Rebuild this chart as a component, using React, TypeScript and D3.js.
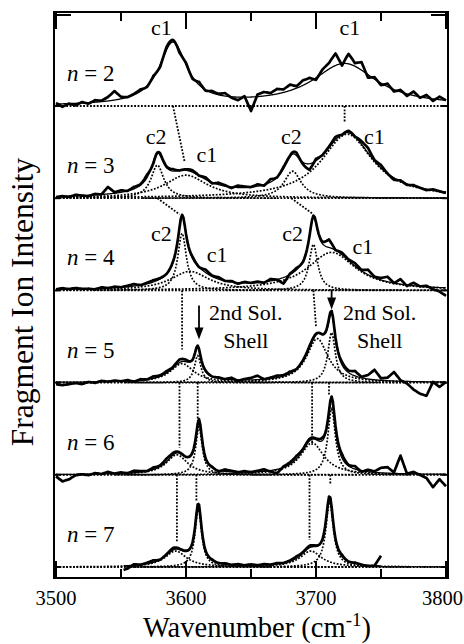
import React from "react";
import * as d3 from "d3";

// ---------------- data ----------------
const clusterSizes = [2, 3, 4, 5, 6, 7];
const xTicksMajor = [3500, 3600, 3700, 3800];
const xTicksMinor = [3550, 3650, 3750];

// Lorentzian fit components per panel (centre cm-1, FWHM cm-1, height)
const peakCenters = [
  [3590, 3722],
  [3578, 3600, 3682, 3724],
  [3597, 3603, 3698, 3712],
  [3597, 3609, 3701, 3712],
  [3593, 3610, 3697, 3712],
  [3592, 3609.5, 3696, 3710.5],
];
const peakWidths = [
  [26, 60],
  [12, 40, 16, 48],
  [8, 36, 8, 45],
  [22, 6, 20, 7],
  [20, 6, 22, 7],
  [20, 6, 20, 7],
];
const peakHeights = [
  [62, 42],
  [33, 23, 27, 64],
  [57, 19, 46, 38],
  [19, 27, 44, 50],
  [20, 48, 32, 66],
  [16, 59, 16, 65],
];
const showComponents = [false, true, true, true, true, true];
const scanStart = [3500, 3500, 3500, 3500, 3500, 3552];
const scanEnd = [3800, 3800, 3800, 3800, 3800, 3750];

// measured spectrum minus fit, every 5 cm-1 from 3500 to 3800
const residualStep = 5;
const residuals = [
  [1, -3, 0, -2, 1, -1, 2, 1, 4, 9,
   2, 0, 1, 2, -1, 2, -2, 3, 2, -3,
   2, -2, 3, -1, 2, 1, 3, -1, -3, 1,
   -14, 2, 4, 2, 5, 3, 6, 2, 5, 4,
   -2, 4, 6, 12, -2, 10, 3, 8, -3, 2,
   -2, 3, -2, 2, -2, 4, -1, 3, -2, 3,
   0],
  [-1, 0, -1, 1, 0, -1, 1, 0, 7, 1,
   2, 0, 2, 1, 3, -2, 2, 1, 2, 0,
   1, 2, 0, 2, -1, 2, 1, -1, 2, 1,
   0, 2, -1, 3, 0, 2, 1, 3, -2, -6,
   2, 0, 1, 3, -1, 2, 0, 3, 5, 1,
   3, 0, -2, 1, -1, 1, 0, -1, 1, 0,
   -1],
  [0, 1, 0, 1, 0, 0, -1, 1, 0, 1,
   0, 1, 2, 0, 1, 2, 1, 0, 1, 0,
   0, 2, 0, 3, 1, 2, 0, 1, -1, 1,
   0, 1, -1, 2, 0, -6, 1, 2, -1, 0,
   1, 2, 8, 0, 2, 1, 3, 1, 5, 1,
   2, 5, 0, 5, -1, 3, 0, 1, -2, -4,
   -8],
  [-2, -3, -2, -1, -2, 0, -1, 1, 0, 1,
   0, 1, -1, 1, 0, 2, 1, 2, 1, 3,
   2, 0, 1, 1, 0, 1, 0, 2, -1, 1,
   2, 4, 0, 1, 2, 1, 2, 0, 1, 2,
   1, 0, 2, 1, 3, 2, 5, 1, 4, 10,
   2, 3, 9, 1, -2, -8, -12, -14, 0, -5,
   0],
  [-2, -7, -5, -1, 0, -1, 1, 0, 2, 0,
   1, 0, 2, 1, 0, 2, 1, 3, 2, 1,
   0, 1, 2, 0, 1, -1, 2, 1, 0, 1,
   0, 1, 2, -1, -4, 1, 2, 3, 1, 2,
   1, 3, 0, 2, 4, 1, 3, -1, 2, 1,
   5, 6, 1, 18, 0, 2, -1, -4, -13, -5,
   -12],
  [0, 1, 0, 1, 0, 1, 1, 0, 1, 0,
   -5, -3, 1, 0, 1, 2, 0, 1, 2, 1,
   1, 0, 1, 0, 1, 0, 1, 0, 1, 0,
   1, 0, 1, 0, 1, 0, 1, 2, 1, 2,
   1, 0, 1, 0, 2, 0, 1, 0, -1, 0,
   10, 0, 0, 1, 0, 0, 0, 1, 0, 0,
   0],
];

// peak labels
const labelPanel = [0, 0, 1, 1, 1, 1, 2, 2, 2, 2];
const labelText = ["c1", "c1", "c2", "c1", "c2", "c1", "c2", "c1", "c2", "c1"];
const labelWn = [3581, 3726, 3577, 3616, 3681, 3745, 3581, 3624, 3682, 3736];
const labelVal = [71, 71, 54, 36, 54, 54, 49, 28, 49, 36];

// dotted guide lines linking peaks between panels
const linkFromPanel = [0, 0, 1, 1, 2, 2, 3, 3, 3, 3, 4, 4, 4, 4];
const linkFromWn = [3590, 3722, 3578, 3681, 3597, 3698, 3595, 3609, 3697, 3710, 3593, 3608, 3695, 3711];
const linkToWn = [3599, 3722, 3595, 3697, 3597, 3700, 3595, 3609, 3697, 3710, 3593, 3608, 3695, 3711];
const linkToVal = [36, 76, 76, 77, 33, 56, 27, 54, 30, 80, 25, 65, 27, 82];

// "2nd Sol. Shell" arrows (in panel n = 5)
const arrowWn = [3610, 3712];
const arrowFromVal = [77, 93];
const arrowToVal = [43, 73];
const shellTextWn = [3646, 3749];

// ---------------- chart ----------------
const W = 464;
const H = 644;
const FONT = "'Liberation Serif', 'Times New Roman', Times, serif";
const frame = { left: 54, right: 448, top: 12, bottom: 578 };

const x = d3.scaleLinear().domain([3500, 3800]).range([56, 446]);
const baseY = d3.scaleLinear().domain([0, 5]).range([106, 567]);
const yPanel = (p: number) =>
  d3.scaleLinear().domain([0, 100]).range([baseY(p), baseY(p) - 100]);

const lor = (wn: number, c: number, w: number, h: number) => {
  const g = w / 2;
  return (h * g * g) / ((wn - c) * (wn - c) + g * g);
};
const fitAt = (p: number, wn: number) =>
  peakCenters[p].reduce((s, c, i) => s + lor(wn, c, peakWidths[p][i], peakHeights[p][i]), 0);
const residAt = (p: number, wn: number) => {
  const r = residuals[p];
  const t = (wn - 3500) / residualStep;
  const i = Math.max(0, Math.min(r.length - 2, Math.floor(t)));
  const f = t - i;
  return r[i] * (1 - f) + r[i + 1] * f;
};

const DOT = "1.8 1.6";

export default function App() {
  const fine = d3.range(3500, 3800.001, 0.5);
  return (
    <svg
      width={W}
      height={H}
      style={{ position: "absolute", left: 0, top: 0, background: "#fff", fontFamily: FONT }}
    >
      <rect x={0} y={0} width={W} height={H} fill="#fff" />
      {clusterSizes.map((n, p) => {
        const y = yPanel(p);
        const line = d3
          .line<number>()
          .x((d) => x(d))
          .curve(d3.curveLinear);
        const fitPts = fine.filter((d) => d >= scanStart[p] && d <= scanEnd[p]);
        const expPts = d3.range(scanStart[p], scanEnd[p] + 0.001, 1);
        return (
          <g key={n}>
            <line
              x1={x(3500)}
              x2={x(3800)}
              y1={y(0)}
              y2={y(0)}
              stroke="#000"
              strokeWidth={1.8}
              strokeDasharray={DOT}
            />
            {showComponents[p] &&
              peakCenters[p].map((c, i) => (
                <path
                  key={i}
                  d={
                    line.y((d) => y(lor(d, c, peakWidths[p][i], peakHeights[p][i])))(
                      fine.filter((d) => Math.abs(d - c) < peakWidths[p][i] * 6 + 20)
                    ) || ""
                  }
                  fill="none"
                  stroke="#000"
                  strokeWidth={1.7}
                  strokeDasharray={DOT}
                />
              ))}
            <path
              d={line.y((d) => y(fitAt(p, d) + residAt(p, d)))(expPts) || ""}
              fill="none"
              stroke="#000"
              strokeWidth={2.7}
              strokeLinejoin="round"
            />
            <path
              d={line.y((d) => y(fitAt(p, d)))(fitPts) || ""}
              fill="none"
              stroke="#000"
              strokeWidth={1.3}
            />
            <text x={x(3508.5)} y={y(25)} fontSize={23} fontFamily={FONT}>
              <tspan fontStyle="italic">n</tspan> = {n}
            </text>
          </g>
        );
      })}

      {linkFromPanel.map((p, i) => (
        <line
          key={"l" + i}
          x1={x(linkFromWn[i])}
          y1={yPanel(p)(0)}
          x2={x(linkToWn[i])}
          y2={yPanel(p + 1)(linkToVal[i])}
          stroke="#000"
          strokeWidth={1.8}
          strokeDasharray={DOT}
        />
      ))}

      {labelText.map((t, i) => (
        <text
          key={"t" + i}
          x={x(labelWn[i])}
          y={yPanel(labelPanel[i])(labelVal[i])}
          fontSize={22}
          fontFamily={FONT}
          textAnchor="middle"
        >
          {t}
        </text>
      ))}

      {arrowWn.map((wn, i) => {
        const y = yPanel(3);
        const ax = x(wn);
        const y1 = y(arrowFromVal[i]);
        const y2 = y(arrowToVal[i]);
        return (
          <g key={"a" + i}>
            <line x1={ax} x2={ax} y1={y1} y2={y2 - 10} stroke="#000" strokeWidth={1.8} />
            <path d={`M${ax - 4.5},${y2 - 12} L${ax + 4.5},${y2 - 12} L${ax},${y2} Z`} fill="#000" />
          </g>
        );
      })}
      {shellTextWn.map((wn, i) => (
        <g key={"s" + i} fontSize={22} fontFamily={FONT} textAnchor="middle">
          <text x={x(wn)} y={yPanel(3)(63)}>
            2nd Sol.
          </text>
          <text x={x(wn)} y={yPanel(3)(35)}>
            Shell
          </text>
        </g>
      ))}

      <rect
        x={frame.left}
        y={frame.top}
        width={frame.right - frame.left}
        height={frame.bottom - frame.top}
        fill="none"
        stroke="#000"
        strokeWidth={2}
      />
      {xTicksMajor.map((t) => (
        <g key={"M" + t} stroke="#000" strokeWidth={2}>
          <line x1={x(t)} x2={x(t)} y1={frame.top} y2={frame.top + 17} />
          <line x1={x(t)} x2={x(t)} y1={frame.bottom} y2={frame.bottom - 17} />
        </g>
      ))}
      {xTicksMinor.map((t) => (
        <g key={"m" + t} stroke="#000" strokeWidth={2}>
          <line x1={x(t)} x2={x(t)} y1={frame.top} y2={frame.top + 9} />
          <line x1={x(t)} x2={x(t)} y1={frame.bottom} y2={frame.bottom - 9} />
        </g>
      ))}
      {clusterSizes.map((n, p) => (
        <g key={"yt" + n} stroke="#000" strokeWidth={2}>
          <line x1={frame.left} x2={frame.left + 6} y1={baseY(p)} y2={baseY(p)} />
          <line x1={frame.right} x2={frame.right - 6} y1={baseY(p)} y2={baseY(p)} />
        </g>
      ))}
      <g stroke="#000" strokeWidth={2}>
        <line x1={frame.left} x2={frame.left + 17} y1={15} y2={15} />
        <line x1={frame.right} x2={frame.right - 17} y1={15} y2={15} />
      </g>
      {xTicksMajor.map((t, i) => {
        const last = i === xTicksMajor.length - 1;
        return (
          <text
            key={"xl" + t}
            x={last ? W - 1 : x(t)}
            y={605}
            fontSize={20.5}
            fontFamily={FONT}
            textAnchor={last ? "end" : "middle"}
          >
            {t}
          </text>
        );
      })}
      <text x={257} y={637} fontSize={28.5} fontFamily={FONT} textAnchor="middle">
        Wavenumber (cm
        <tspan fontSize={19} dy={-11}>
          -1
        </tspan>
        <tspan dy={11}>)</tspan>
      </text>
      <text
        transform="translate(33,302) rotate(-90)"
        fontSize={31.5}
        fontFamily={FONT}
        textAnchor="middle"
      >
        Fragment Ion Intensity
      </text>
    </svg>
  );
}
